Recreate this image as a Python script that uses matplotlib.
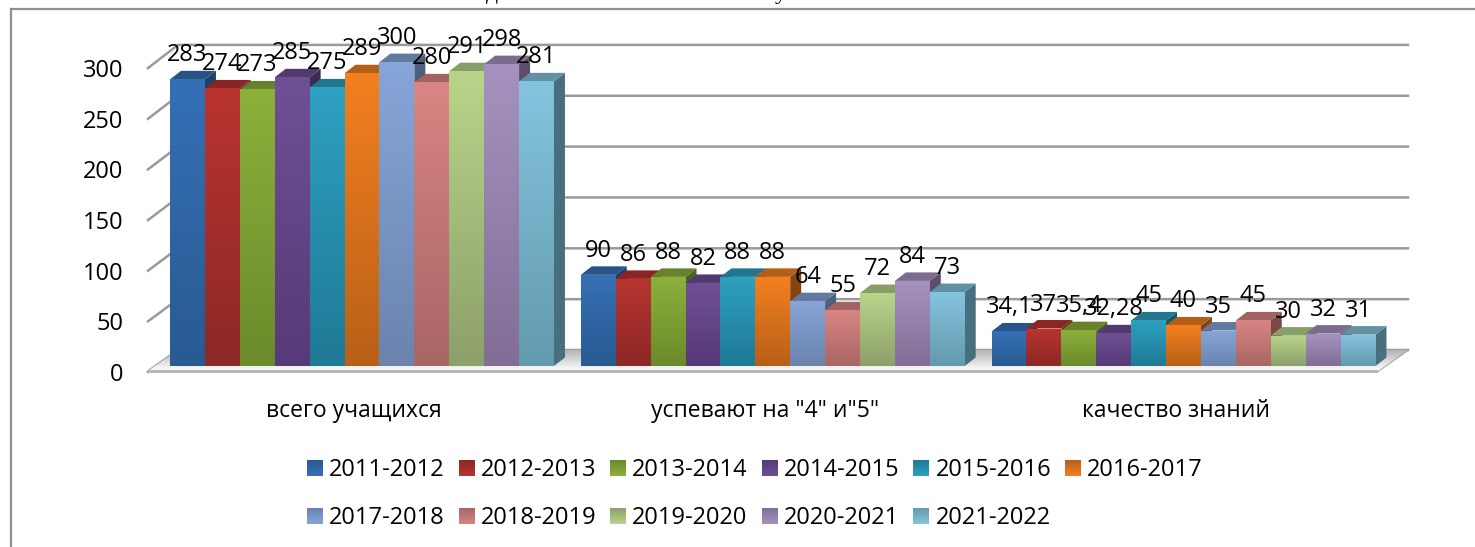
import matplotlib
matplotlib.use('Agg')
import matplotlib.pyplot as plt
import numpy as np
from matplotlib.colors import LinearSegmentedColormap, to_rgb
from matplotlib.patches import Polygon, Rectangle

plt.rcParams['font.family'] = ['Open Sans', 'DejaVu Sans']

# datos
categorias = ['всего учащихся', 'успевают на "4" и"5"', 'качество знаний']
periodos = ['2011-2012', '2012-2013', '2013-2014', '2014-2015', '2015-2016', '2016-2017',
            '2017-2018', '2018-2019', '2019-2020', '2020-2021', '2021-2022']
total = [283, 274, 273, 285, 275, 289, 300, 280, 291, 298, 281]
buenos = [90, 86, 88, 82, 88, 88, 64, 55, 72, 84, 73]
calidad = [34.1, 37, 35.4, 32.28, 45, 40, 35, 45, 30, 32, 31]
ticks_y = [0, 50, 100, 150, 200, 250, 300]

colores_arriba = ['#3570b5', '#b9342f', '#8db03b', '#6f4f96', '#2ea0c0', '#f38020',
                  '#86a5d8', '#d98583', '#b9d48a', '#a692c0', '#84c4de']
colores_abajo = ['#295a92', '#8c2826', '#6b8a2b', '#573a78', '#1f7a96', '#b86018',
                 '#6b84ae', '#a86665', '#8da06a', '#816e96', '#649aae']

W, H = 1475, 547
FS = 23.6 * 72 / 100  # 23.6 px
ESC_Y = 1.013       # px por unidad
ESC_X = 410.75      # px por categoria
X0, Y0 = 362, 366   # centro de la primera categoria, base de las barras
BAJA = 3            # el texto queda un poco mas arriba que en la imagen

fig = plt.figure(figsize=(W / 100, H / 100), dpi=100)
ax = fig.add_axes([0, 0, 1, 1])


# de pixeles de la imagen a datos
def px(x):
    return (x - X0) / ESC_X


def py(y):
    return (Y0 - y) / ESC_Y


def degradado(x0, x1, y0, y1, arriba, abajo, z, clip=None):
    cmap = LinearSegmentedColormap.from_list('g', [arriba, abajo])
    img = ax.imshow(np.linspace(0, 1, 64).reshape(-1, 1), cmap=cmap, aspect='auto',
                    extent=(x0, x1, y0, y1), origin='upper', zorder=z, interpolation='bilinear')
    if clip is not None:
        img.set_clip_path(clip)
    return img


def oscurecer(color, f):
    return tuple(c * f for c in to_rgb(color))


# marco
ax.plot([px(10.5), px(10.5)], [py(9), py(H)], color='#8f8f8f', lw=1.6, zorder=1)
ax.plot([px(10.5), px(W)], [py(9), py(9)], color='#8f8f8f', lw=1.6, zorder=1)

# restos del titulo cortado
ax.text(px(492), py(-1), 'д', family='Liberation Serif', fontsize=FS, ha='center', va='baseline')
ax.text(px(781), py(-1), 'у', family='Liberation Serif', fontsize=FS, ha='center', va='baseline')

# rejilla: pared del fondo y diagonales
for t in ticks_y:
    y_frente = 372 - t * ESC_Y
    y_fondo = 350 - t * 1.017
    ax.plot([px(148), px(178), px(1408)], [py(y_frente), py(y_fondo), py(y_fondo)],
            color='#9a9a9a', lw=1.8, zorder=2, solid_joinstyle='miter')
    ax.text(px(123), py(y_frente + BAJA), str(t), fontsize=FS, ha='right', va='center', color='black')

# piso
piso = Polygon([(px(148), py(371)), (px(178), py(350)), (px(1408), py(350)), (px(1378), py(371))],
               closed=True, facecolor='#e8e8e8', edgecolor='#a0a0a0', lw=1.4, zorder=3)
ax.add_patch(piso)
degradado(px(148), px(1408), py(350), py(371), '#ffffff', '#b4b4b4', 3.5, clip=piso)
ax.add_patch(Rectangle((px(148), py(373)), (1378 - 148) / ESC_X, 3.5 / ESC_Y,
                       facecolor='#b8b8b8', edgecolor='none', zorder=3.6))

# barras
ANCHO = 34.9 / ESC_X
DX, DY = 11 / ESC_X, 8.5 / ESC_Y
z = 10
for i, serie in enumerate(zip(total, buenos, calidad)):
    for j, v in enumerate(serie):
        x = j + (i - 5) * ANCHO
        iz, de = x - ANCHO / 2, x + ANCHO / 2
        # costado y tapa
        ax.add_patch(Polygon([(de, 0), (de + DX, DY), (de + DX, v + DY), (de, v)], closed=True,
                             facecolor=oscurecer(colores_abajo[i], 0.72), edgecolor='none', zorder=z))
        ax.add_patch(Polygon([(iz, v), (iz + DX, v + DY), (de + DX, v + DY), (de, v)], closed=True,
                             facecolor=oscurecer(colores_arriba[i], 0.74), edgecolor='none', zorder=z + 0.1))
        barra = ax.bar(x, v, width=ANCHO, color=colores_arriba[i], zorder=z + 0.2)[0]
        degradado(iz, de, 0, v, colores_arriba[i], colores_abajo[i], z + 0.3, clip=barra)
        z += 1

# etiquetas de valores
for i, serie in enumerate(zip(total, buenos, calidad)):
    for j, v in enumerate(serie):
        x = j + (i - 5) * ANCHO
        ax.text(x, v + (27 - BAJA) / ESC_Y, str(v).replace('.', ','), fontsize=FS, ha='center',
                va='center', color='black', zorder=100)

# categorias
for j, c in enumerate(categorias):
    ax.text(j - 8 / ESC_X, py(408 + BAJA), c, fontsize=FS * 0.97, ha='center', va='center', zorder=100)

# leyenda
for i, p in enumerate(periodos):
    col = i % 6
    fila = i // 6
    xc = 307 + col * 151.6
    yc = 468 + fila * 48
    degradado(px(xc), px(xc + 16), py(yc - 8), py(yc + 8), colores_arriba[i], colores_abajo[i], 100)
    ax.text(px(xc + 22), py(yc + BAJA - 1), p, fontsize=FS, ha='left', va='center', zorder=100)

ax.set_xlim(px(0), px(W))
ax.set_ylim(py(H), py(0))
ax.axis('off')

fig.savefig('out.png', dpi=100, facecolor='white')
plt.close(fig)
